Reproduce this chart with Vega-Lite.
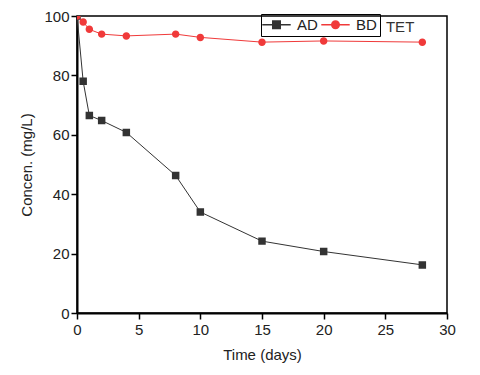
{
  "$schema": "https://vega.github.io/schema/vega-lite/v6.json",
  "width": 370,
  "height": 297,
  "autosize": {"type": "none"},
  "padding": {"left": 77, "top": 16, "right": 33, "bottom": 62},
  "background": "white",
  "config": {
    "view": {"stroke": "black", "strokeWidth": 1.5},
    "font": "Liberation Sans",
    "axis": {
      "domainColor": "black", "domainWidth": 2, "tickColor": "black", "tickWidth": 1.5,
      "labelFont": "Liberation Sans", "labelFontSize": 15, "labelColor": "#222", "labelFlush": false,
      "titleFont": "Liberation Sans", "titleFontSize": 15, "titleFontWeight": "normal", "titleColor": "#222",
      "grid": false
    }
  },
  "datasets": {
    "series": [
      {"time": 0, "conc": 100, "series": "AD"},
      {"time": 0.5, "conc": 78, "series": "AD"},
      {"time": 1, "conc": 66.5, "series": "AD"},
      {"time": 2, "conc": 64.8, "series": "AD"},
      {"time": 4, "conc": 60.8, "series": "AD"},
      {"time": 8, "conc": 46.3, "series": "AD"},
      {"time": 10, "conc": 34, "series": "AD"},
      {"time": 15, "conc": 24.2, "series": "AD"},
      {"time": 20, "conc": 20.7, "series": "AD"},
      {"time": 28, "conc": 16.2, "series": "AD"},
      {"time": 0, "conc": 100, "series": "BD"},
      {"time": 0.5, "conc": 98, "series": "BD"},
      {"time": 1, "conc": 95.5, "series": "BD"},
      {"time": 2, "conc": 93.9, "series": "BD"},
      {"time": 4, "conc": 93.3, "series": "BD"},
      {"time": 8, "conc": 93.9, "series": "BD"},
      {"time": 10, "conc": 92.8, "series": "BD"},
      {"time": 15, "conc": 91.2, "series": "BD"},
      {"time": 20, "conc": 91.6, "series": "BD"},
      {"time": 28, "conc": 91.2, "series": "BD"}
    ],
    "note": [{"time": 26.2, "conc": 96.4, "label": "TET"}]
  },
  "layer": [
    {
      "data": {"name": "series"},
      "mark": {"type": "line", "strokeWidth": 1},
      "encoding": {
        "x": {"field": "time", "type": "quantitative", "scale": {"domain": [0, 30], "nice": false},
          "title": "Time (days)",
          "axis": {"values": [0,2.5,5,7.5,10,12.5,15,17.5,20,22.5,25,27.5,30],
            "labelExpr": "datum.value % 5 === 0 ? datum.label : ''",
            "tickSize": {"condition": {"test": "datum.value % 5 === 0", "value": 6}, "value": 3},
            "labelPadding": 3, "titlePadding": 10}},
        "y": {"field": "conc", "type": "quantitative", "scale": {"domain": [0, 100], "nice": false},
          "title": "Concen. (mg/L)",
          "axis": {"values": [0,10,20,30,40,50,60,70,80,90,100],
            "labelExpr": "datum.value % 20 === 0 ? datum.label : ''",
            "tickSize": {"condition": {"test": "datum.value % 20 === 0", "value": 6}, "value": 3},
            "labelPadding": 2, "titlePadding": 9}},
        "color": {"field": "series", "type": "nominal",
          "scale": {"domain": ["AD", "BD"], "range": ["#333333", "#f03a3a"]}}
      }
    },
    {
      "data": {"name": "series"},
      "mark": {"type": "point", "filled": true, "size": 56, "opacity": 1, "strokeWidth": 0, "clip": true},
      "encoding": {
        "x": {"field": "time", "type": "quantitative"},
        "y": {"field": "conc", "type": "quantitative"},
        "color": {"field": "series", "type": "nominal",
          "legend": {"title": null, "orient": "none", "legendX": 184, "legendY": -2, "direction": "horizontal",
            "strokeColor": "black", "padding": 3, "labelFontSize": 15, "labelFont": "Liberation Sans", "labelColor": "#222",
            "columnPadding": 0, "labelOffset": 13, "symbolOffset": 5, "symbolSize": 56}},
        "shape": {"field": "series", "type": "nominal",
          "scale": {"domain": ["AD", "BD"], "range": [
            "M-3.8,0H3.8M-1,-1H1V1H-1Z",
            "M-3.8,0H3.8M-1,0A1,1 0 1,0 1,0A1,1 0 1,0 -1,0Z"
          ]}}
      }
    },
    {
      "data": {"name": "note"},
      "mark": {"type": "text", "fontSize": 15, "font": "Liberation Sans", "color": "#333"},
      "encoding": {
        "x": {"field": "time", "type": "quantitative"},
        "y": {"field": "conc", "type": "quantitative"},
        "text": {"field": "label"}
      }
    }
  ]
}
